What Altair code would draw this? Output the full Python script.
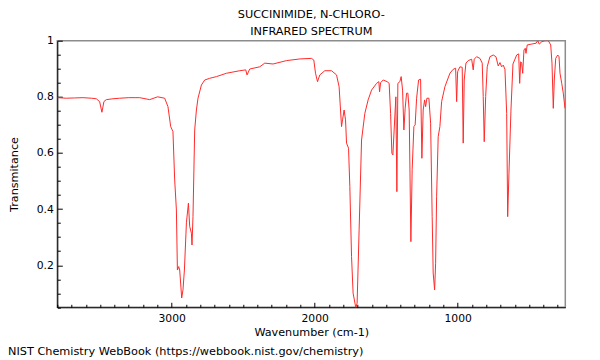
import altair as alt
import pandas as pd

title_lines = ["SUCCINIMIDE, N-CHLORO-", "INFRARED SPECTRUM"]
x_title = "Wavenumber (cm-1)"
y_title = "Transmitance"
footer = "NIST Chemistry WebBook (https://webbook.nist.gov/chemistry)"

wavenumber = [
    3800, 3796, 3737, 3680, 3621, 3560, 3527, 3504, 3488, 3474,
    3457, 3411, 3364, 3300, 3250, 3224, 3154, 3098, 3049, 3026,
    3007, 2991, 2979, 2967, 2960, 2951, 2944, 2930, 2921, 2911,
    2897, 2883, 2874, 2862, 2858, 2851, 2839, 2827, 2816, 2792,
    2769, 2734, 2687, 2617, 2524, 2482, 2473, 2454, 2384, 2349,
    2291, 2197, 2104, 2022, 2006, 1994, 1980, 1964, 1929, 1882,
    1847, 1829, 1819, 1812, 1805, 1794, 1784, 1777, 1763, 1754,
    1742, 1731, 1712, 1703, 1689, 1672, 1649, 1626, 1602, 1567,
    1551, 1546, 1539, 1521, 1493, 1479, 1469, 1460, 1453, 1444,
    1432, 1425, 1418, 1404, 1395, 1385, 1376, 1367, 1357, 1348,
    1339, 1327, 1318, 1306, 1297, 1287, 1273, 1259, 1250, 1241,
    1231, 1224, 1215, 1201, 1189, 1178, 1171, 1161, 1154, 1147,
    1136, 1124, 1112, 1089, 1054, 1031, 1014, 1007, 1000, 984,
    968, 961, 954, 942, 926, 902, 891, 884, 867, 844,
    828, 821, 814, 804, 793, 774, 751, 732, 716, 704,
    692, 681, 669, 657, 650, 641, 627, 613, 587, 573,
    566, 559, 552, 545, 536, 527, 522, 513, 482, 452,
    440, 429, 412, 389, 366, 349, 340, 331, 324, 314,
    300, 291, 284, 272, 261, 249,
]

transmittance = [
    .797, .797, .795, .796, .797, .795, .793, .783, .745, .783,
    .790, .793, .795, .797, .797, .797, .790, .800, .795, .765,
    .694, .676, .504, .397, .183, .195, .183, .083, .112, .183,
    .351, .421, .338, .314, .272, .373, .682, .753, .795, .842,
    .860, .866, .872, .884, .893, .896, .878, .899, .907, .920,
    .917, .929, .935, .937, .931, .884, .854, .878, .893, .893,
    .878, .836, .753, .694, .718, .753, .718, .635, .617, .480,
    .231, .100, .048, .065, .326, .646, .741, .789, .824, .848,
    .854, .818, .850, .860, .854, .848, .741, .599, .593, .682,
    .800, .462, .848, .854, .872, .824, .682, .759, .813, .813,
    .753, .284, .540, .694, .700, .795, .860, .863, .581, .753,
    .789, .765, .795, .795, .706, .373, .172, .112, .207, .444,
    .658, .694, .783, .836, .884, .898, .902, .783, .890, .907,
    .905, .635, .860, .920, .929, .934, .896, .934, .943, .937,
    .920, .801, .640, .801, .907, .943, .949, .943, .910, .922,
    .907, .913, .898, .741, .373, .528, .753, .917, .949, .953,
    .848, .925, .920, .884, .967, .973, .955, .985, .988, .991,
    1.0, .988, .996, 1.0, 1.0, .985, .920, .759, .860, .937,
    .949, .943, .884, .848, .813, .759,
]

assert len(wavenumber) == len(transmittance)

x_ticks = list(range(300, 3801, 100))
y_ticks = [round(0.05 * i, 2) for i in range(1, 21)]
x_domain = [247, 3800]
y_domain = [0.05, 1.0]

df = pd.DataFrame({"wn": wavenumber, "t": transmittance})

FONT = "DejaVu Sans"

x_axis = alt.Axis(
    values=x_ticks,
    format="d",
    labelExpr="datum.value % 1000 == 0 ? datum.label : ''",
    tickSize={"expr": "datum.value % 1000 == 0 ? -5 : -3"},
    labelPadding=10,
    labelOverlap=False,
    labelFlush=False,
    grid=False,
    domainColor="black",
    tickColor="black",
    labelColor="black",
    labelFont=FONT,
    labelFontSize=10.8,
    title=x_title,
    titleFont=FONT,
    titleFontSize=11.2,
    titleFontWeight="normal",
    titleColor="black",
    titleX=254,
    titleY=25,
    titleBaseline="middle",
)

y_axis = alt.Axis(
    values=y_ticks,
    labelExpr="round(datum.value * 100) % 20 == 0 ? format(datum.value, '~g') : ''",
    tickSize={"expr": "round(datum.value * 100) % 20 == 0 ? -5 : -3"},
    labelPadding=9,
    labelOverlap=False,
    labelFlush=False,
    grid=False,
    domainColor="black",
    tickColor="black",
    labelColor="black",
    labelFont=FONT,
    labelFontSize=10.8,
    title=y_title,
    titleFont=FONT,
    titleFontSize=11.2,
    titleFontWeight="normal",
    titleColor="black",
    titleX=-42.5,
    titleY=133.3,
    titleBaseline="middle",
    titleAngle=270,
)

line = alt.Chart(df).mark_line(color="#ff2a2a", strokeWidth=1, clip=True).encode(
    x=alt.X("wn:Q", scale=alt.Scale(domain=x_domain, reverse=True, nice=False, zero=False), axis=x_axis),
    y=alt.Y("t:Q", scale=alt.Scale(domain=y_domain, nice=False, zero=False), axis=y_axis),
)

foot = alt.Chart(alt.Data(values=[{"k": 1}])).mark_text(
    align="left", baseline="middle", font=FONT, fontSize=11.3, color="black"
).encode(
    x=alt.value(-49.3),
    y=alt.value(311.3),
    text=alt.value(footer),
)

chart = alt.layer(line, foot).properties(
    width=508,
    height=266.6,
    title=alt.TitleParams(
        text=title_lines,
        font=FONT,
        fontSize=11.3,
        fontWeight="normal",
        color="black",
        anchor="middle",
        frame="group",
        offset=-2.5,
        lineHeight=17,
    ),
    autosize=alt.AutoSizeParams(type="none"),
    padding={"left": 49.3, "top": 32.7, "right": 26, "bottom": 52},
).configure_view(stroke="#8c8c8c", strokeWidth=1.5)

chart.save("out.html", embed_options={"renderer": "svg", "actions": False})
